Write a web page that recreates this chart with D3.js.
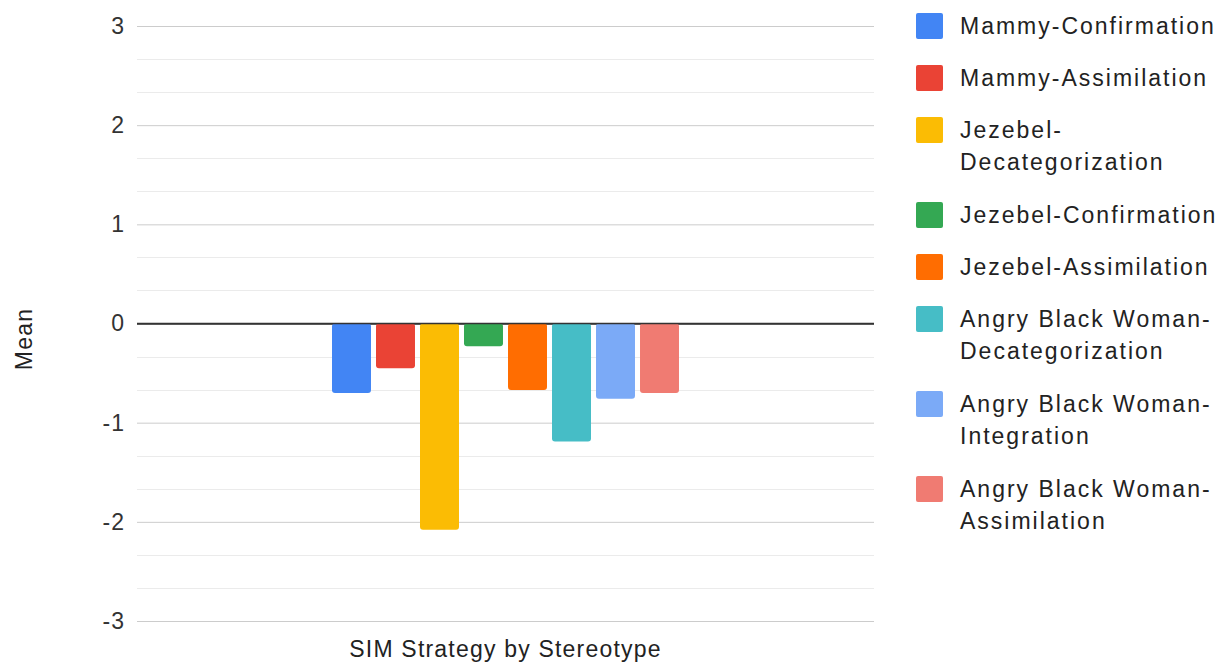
<!DOCTYPE html>
<html>
<head>
<meta charset="utf-8">
<script src="https://cdn.jsdelivr.net/npm/d3@7"></script>
<style>
  body { margin: 0; background: #fff; }
  svg { display: block; font-family: "Liberation Sans", Arial, sans-serif; }
</style>
</head>
<body>
<div id="chart"></div>
<script>
// data
let category = ['SIM Strategy by Stereotype'];
let seriesNames = ['Mammy-Confirmation', 'Mammy-Assimilation', 'Jezebel-Decategorization',
  'Jezebel-Confirmation', 'Jezebel-Assimilation', 'Angry Black Woman-Decategorization',
  'Angry Black Woman-Integration', 'Angry Black Woman-Assimilation'];
let means = [-0.70, -0.45, -2.08, -0.23, -0.67, -1.19, -0.76, -0.70];
let colors = ['#4285F4', '#EA4335', '#FBBC04', '#34A853', '#FF6D01', '#46BDC6', '#7BAAF7', '#F07B72'];
let yTicks = [-3, -2, -1, 0, 1, 2, 3];

let width = 1230, height = 662;
let plot = {left: 137, right: 874, top: 26, bottom: 621};

let svg = d3.select('#chart').append('svg')
  .attr('width', width).attr('height', height);

let y = d3.scaleLinear().domain([-3, 3]).range([plot.bottom, plot.top]);

let x0 = d3.scaleBand().domain(category)
  .range([plot.left, plot.right]).paddingOuter(0.562).paddingInner(0);
let x1 = d3.scaleBand().domain(seriesNames)
  .range([0, x0.bandwidth()]).paddingInner(0.114).paddingOuter(0);

// minor gridlines (thirds)
let minor = d3.range(-3, 3.001, 1/3).filter(v => Math.abs(v - Math.round(v)) > 0.01);
svg.append('g').selectAll('line').data(minor).enter().append('line')
  .attr('x1', plot.left).attr('x2', plot.right)
  .attr('y1', d => Math.round(y(d)) + 0.5).attr('y2', d => Math.round(y(d)) + 0.5)
  .style('stroke', '#ebebeb');

// y axis with major gridlines
let yAxis = svg.append('g')
  .attr('transform', 'translate(' + plot.left + ',0)')
  .call(d3.axisLeft(y).tickValues(yTicks).tickFormat(d => String(d))
    .tickSize(-(plot.right - plot.left)).tickPadding(12));
yAxis.select('.domain').remove();
yAxis.selectAll('.tick line').style('stroke', d => d === 0 ? '#333' : '#ccc')
  .style('stroke-width', d => d === 0 ? 1.5 : 1);
yAxis.selectAll('.tick text')
  .style('font-size', '23px').style('fill', '#333').style('letter-spacing', '1px')
  .style('font-family', '"Liberation Sans", Arial, sans-serif');

// bars
let bars = svg.append('g');
bars.selectAll('rect').data(means).enter().append('rect')
  .attr('x', (d, i) => x0(category[0]) + x1(seriesNames[i]))
  .attr('width', x1.bandwidth())
  .attr('y', d => y(Math.max(0, d)))
  .attr('height', d => Math.abs(y(d) - y(0)))
  .attr('rx', 3)
  .style('fill', (d, i) => colors[i]);

// redraw zero line above bars
svg.append('line')
  .attr('x1', plot.left).attr('x2', plot.right)
  .attr('y1', y(0)).attr('y2', y(0))
  .style('stroke', '#333').style('stroke-width', 1.5);

// axis titles
svg.append('text')
  .attr('transform', 'translate(32,339) rotate(-90)')
  .attr('text-anchor', 'middle')
  .style('font-size', '23px').style('fill', '#222').style('letter-spacing', '1.2px')
  .text('Mean');

svg.append('text')
  .attr('x', (plot.left + plot.right) / 2).attr('y', 657)
  .attr('text-anchor', 'middle')
  .style('font-size', '23px').style('fill', '#222').style('letter-spacing', '1.2px')
  .text(category[0]);

// legend
let legend = svg.append('g').attr('transform', 'translate(916,13)');
let rowY = 0;
seriesNames.forEach(function(name, i) {
  let g = legend.append('g').attr('transform', 'translate(0,' + rowY + ')');
  g.append('rect').attr('width', 27).attr('height', 26).attr('rx', 2)
    .style('fill', colors[i]);
  let txt = g.append('text').attr('x', 44).attr('y', 21)
    .style('font-size', '23px').style('fill', '#222').style('letter-spacing', '2px')
    .text(name);
  let lines = 1;
  if (txt.node().getComputedTextLength() > 272) {
    let cut = name.indexOf('-') + 1;
    txt.text(null);
    txt.append('tspan').attr('x', 44).text(name.slice(0, cut));
    txt.append('tspan').attr('x', 44).attr('dy', 32).text(name.slice(cut));
    lines = 2;
  }
  rowY += 52 + (lines - 1) * 33;
});
</script>
</body>
</html>
